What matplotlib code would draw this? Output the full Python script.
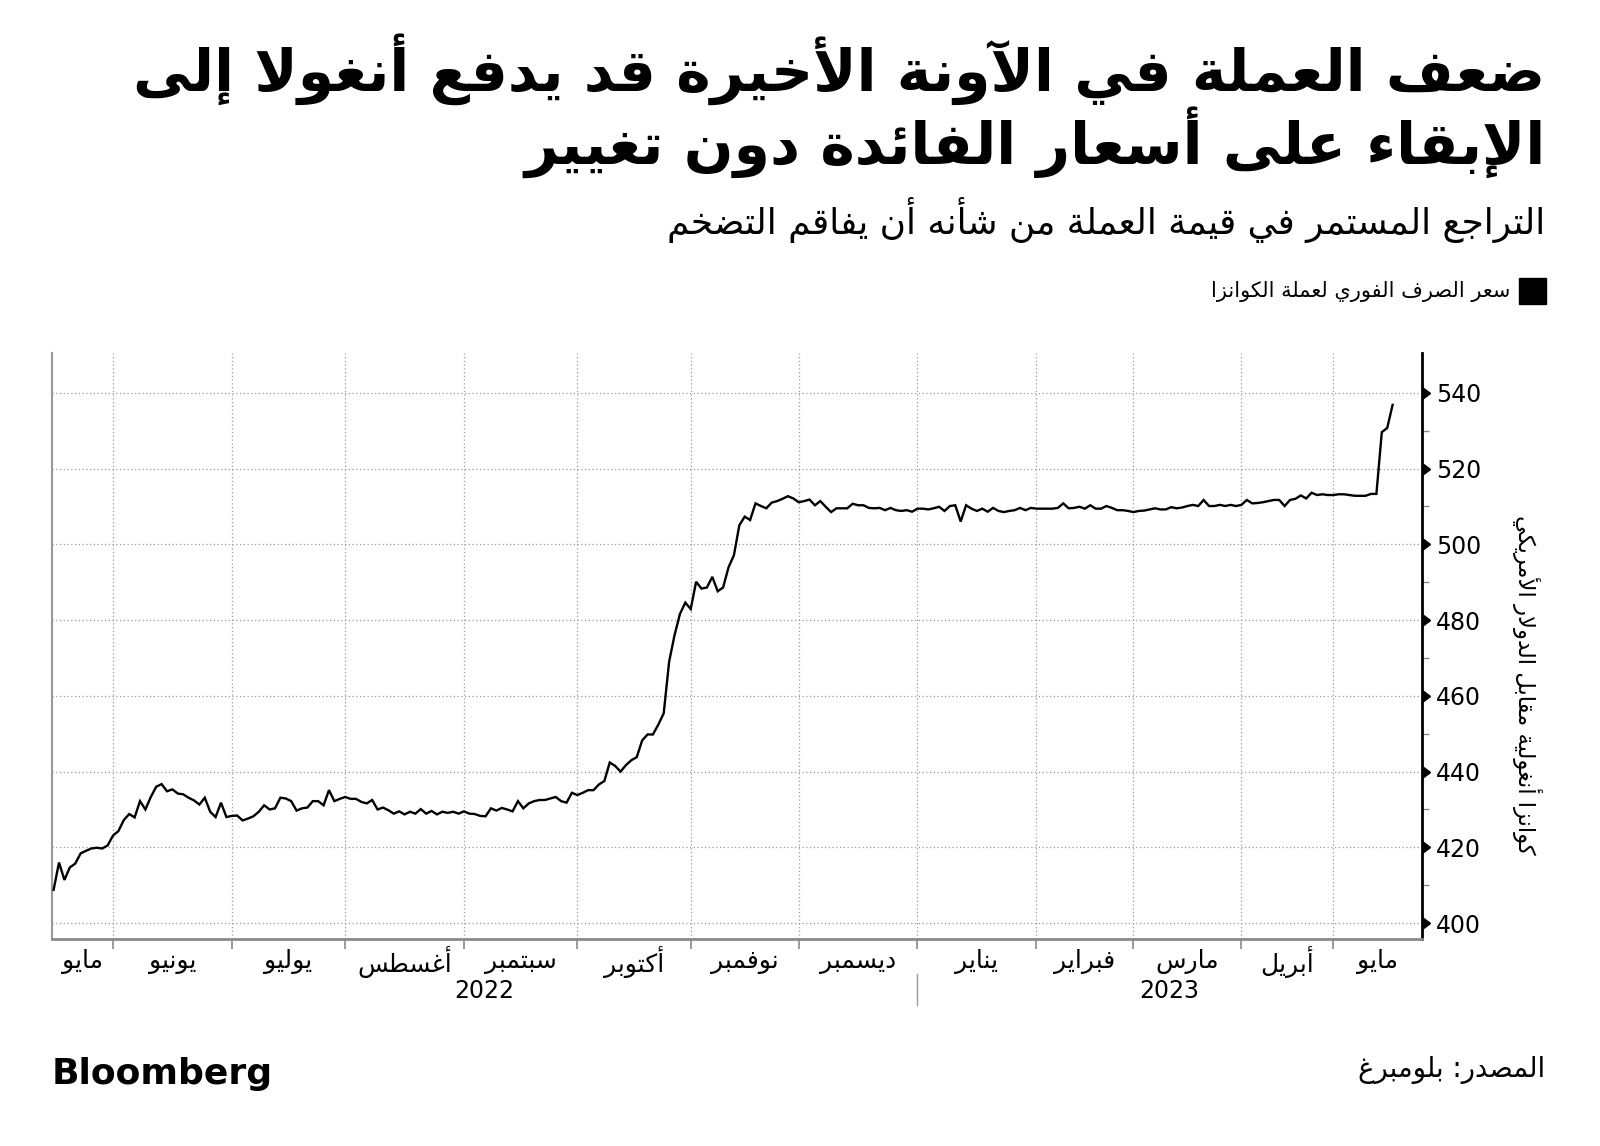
import numpy as np
import matplotlib
matplotlib.use("Agg")
import matplotlib.pyplot as plt
import matplotlib.transforms as mtransforms
import matplotlib.markers as mmarkers
from matplotlib.patches import Rectangle

plt.rcParams['font.family'] = ['DejaVu Sans']

# ---- data -------------------------------------------------------------
# months shown on the axis, and how many trading days fall in each
months = ["مايو", "يونيو", "يوليو", "أغسطس", "سبتمبر", "أكتوبر", "نوفمبر",
          "ديسمبر", "يناير", "فبراير", "مارس", "أبريل", "مايو"]
month_counts = [11, 22, 21, 22, 21, 21, 20, 22, 22, 18, 20, 17, 12]
years = ["2022", "2023"]
months_per_year = [8, 5]

# kwanza per US dollar, one value per trading day
kwanza = [
    408.8, 416.0, 411.4, 414.7, 415.7, 418.4, 419.1, 419.7, 419.9, 419.7,
    420.5, 423.1, 424.3, 427.2, 428.8, 427.9, 432.2, 430.0, 433.3, 436.0,
    436.7, 434.8, 435.3, 434.2, 434.0, 433.1, 432.4, 431.3, 433.1, 429.4,
    428.0, 431.8, 428.0, 428.3, 428.4, 427.1, 427.6, 428.2, 429.4, 431.1,
    430.0, 430.3, 433.1, 432.9, 432.2, 429.7, 430.3, 430.5, 432.2, 432.2,
    431.1, 435.1, 432.2, 432.8, 433.3, 432.8, 432.8, 432.0, 431.6, 432.5,
    430.0, 430.5, 429.8, 428.9, 429.5, 428.7, 429.4, 428.9, 430.1, 428.9,
    429.6, 428.7, 429.4, 429.1, 429.4, 428.9, 429.5, 428.9, 428.8, 428.3,
    428.2, 430.3, 429.7, 430.4, 430.0, 429.5, 432.2, 430.3, 431.6, 432.2,
    432.5, 432.5, 432.9, 433.3, 432.2, 431.8, 434.4, 433.8, 434.4, 435.1,
    435.1, 436.6, 437.5, 442.4, 441.5, 440.0, 441.7, 443.0, 443.8, 448.2,
    449.8, 449.8, 452.4, 455.4, 469.0, 476.0, 481.6, 484.6, 482.9, 490.1,
    488.3, 488.6, 491.4, 487.6, 488.6, 493.9, 497.1, 505.0, 507.3, 506.4,
    510.8, 510.1, 509.5, 511.0, 511.4, 512.0, 512.7, 512.1, 511.1, 511.4,
    511.8, 510.3, 511.4, 509.9, 508.5, 509.5, 509.5, 509.5, 510.7, 510.3,
    510.3, 509.6, 509.5, 509.6, 509.0, 509.6, 509.0, 508.8, 509.0, 508.6,
    509.4, 509.4, 509.2, 509.5, 509.9, 508.8, 510.1, 510.3, 506.0, 510.3,
    509.4, 508.8, 509.4, 508.6, 509.6, 508.8, 508.5, 508.8, 509.0, 509.6,
    509.0, 509.6, 509.4, 509.4, 509.4, 509.4, 509.6, 510.8, 509.5, 509.6,
    509.9, 509.4, 510.3, 509.4, 509.4, 510.1, 509.6, 509.0, 509.0, 508.8,
    508.5, 508.8, 508.9, 509.2, 509.5, 509.2, 509.2, 509.8, 509.5, 509.7,
    510.1, 510.4, 510.1, 511.7, 510.1, 510.1, 510.4, 510.1, 510.4, 510.1,
    510.4, 511.7, 510.8, 510.9, 511.1, 511.4, 511.7, 511.7, 510.1, 511.7,
    512.0, 512.9, 512.1, 513.6, 513.0, 513.2, 513.0, 513.0, 513.2, 513.2,
    513.0, 512.8, 512.8, 512.8, 513.3, 513.3, 529.6, 530.7, 536.8,
]
y_ticks = [400, 420, 440, 460, 480, 500, 520, 540]
y_minor = [410, 430, 450, 470, 490, 510, 530]

title_lines = ["ضعف العملة في الآونة الأخيرة قد يدفع أنغولا إلى",
               "الإبقاء على أسعار الفائدة دون تغيير"]
subtitle = "التراجع المستمر في قيمة العملة من شأنه أن يفاقم التضخم"
legend_label = "سعر الصرف الفوري لعملة الكوانزا"
y_label = "كوانزا أنغولية مقابل الدولار الأمريكي"
source = "المصدر: بلومبرغ"

# ---- minimal arabic shaping (matplotlib has no text shaping) ----------
FORMS = {
    'ء': (0xFE80, 1), 'آ': (0xFE81, 2), 'أ': (0xFE83, 2), 'ؤ': (0xFE85, 2),
    'إ': (0xFE87, 2), 'ئ': (0xFE89, 4), 'ا': (0xFE8D, 2), 'ب': (0xFE8F, 4),
    'ة': (0xFE93, 2), 'ت': (0xFE95, 4), 'ث': (0xFE99, 4), 'ج': (0xFE9D, 4),
    'ح': (0xFEA1, 4), 'خ': (0xFEA5, 4), 'د': (0xFEA9, 2), 'ذ': (0xFEAB, 2),
    'ر': (0xFEAD, 2), 'ز': (0xFEAF, 2), 'س': (0xFEB1, 4), 'ش': (0xFEB5, 4),
    'ص': (0xFEB9, 4), 'ض': (0xFEBD, 4), 'ط': (0xFEC1, 4), 'ظ': (0xFEC5, 4),
    'ع': (0xFEC9, 4), 'غ': (0xFECD, 4), 'ف': (0xFED1, 4), 'ق': (0xFED5, 4),
    'ك': (0xFED9, 4), 'ل': (0xFEDD, 4), 'م': (0xFEE1, 4), 'ن': (0xFEE5, 4),
    'ه': (0xFEE9, 4), 'و': (0xFEED, 2), 'ى': (0xFEEF, 2), 'ي': (0xFEF1, 4),
}
LAM_ALEF = {'آ': 0xFEF5, 'أ': 0xFEF7, 'إ': 0xFEF9, 'ا': 0xFEFB}


def ar(text):
    out = []
    i = 0
    n = len(text)
    while i < n:
        c = text[i]
        if c not in FORMS:
            out.append(c)
            i += 1
            continue
        prev = text[i - 1] if i > 0 else ''
        joins_prev = prev in FORMS and FORMS[prev][1] == 4 and FORMS[c][1] > 1
        if c == 'ل' and i + 1 < n and text[i + 1] in LAM_ALEF:
            out.append(chr(LAM_ALEF[text[i + 1]] + (1 if joins_prev else 0)))
            i += 2
            continue
        nxt = text[i + 1] if i + 1 < n else ''
        start, nforms = FORMS[c]
        joins_next = nforms == 4 and nxt in FORMS and FORMS[nxt][1] > 1
        if joins_prev and joins_next:
            off = 3
        elif joins_prev:
            off = 1
        elif joins_next:
            off = 2
        else:
            off = 0
        out.append(chr(start + off))
        i += 1
    return ''.join(reversed(out))


# ---- figure -----------------------------------------------------------
fig = plt.figure(figsize=(16, 11.46), dpi=100)
ax = fig.add_axes([0.0325, 0.1806, 0.8561, 0.5114])

x = np.arange(len(kwanza))
ax.plot(x, kwanza, color='black', lw=1.7, solid_joinstyle='miter', zorder=3)

x_lo, x_hi = -0.3, len(kwanza) + 4.4
ax.set_xlim(x_lo, x_hi)
ax.set_ylim(395.8, 550.5)

bounds = np.concatenate([[0], np.cumsum(month_counts)])
grid_x = bounds[1:-1]

ax.set_xticks(grid_x)
ax.set_xticklabels([])
ax.tick_params(axis='x', length=7, width=1.2, color='#8a8a8a', direction='out')

ax.yaxis.tick_right()
ax.set_yticks(y_ticks)
ax.set_yticks(y_minor, minor=True)
ax.tick_params(axis='y', which='major', length=0, pad=10, labelsize=17,
               labelcolor='black')
ax.tick_params(axis='y', which='minor', length=5, width=1, color='#8a8a8a',
               direction='out', right=True, left=False)

ax.grid(True, which='major', color='#9a9a9a', lw=0.9, linestyle=(0, (1, 2)))

ax.spines['top'].set_visible(False)
ax.spines['left'].set_color('#9a9a9a')
ax.spines['left'].set_linewidth(1.5)
ax.spines['bottom'].set_color('#8a8a8a')
ax.spines['bottom'].set_linewidth(2)
ax.spines['right'].set_color('black')
ax.spines['right'].set_linewidth(2)

# triangular major tick marks on the right axis
ytrans = mtransforms.blended_transform_factory(ax.transAxes, ax.transData)
ax.plot([1.0] * len(y_ticks), y_ticks, linestyle='none',
        marker=mmarkers.CARETRIGHTBASE, ms=8, color='black',
        transform=ytrans, clip_on=False, zorder=5)

# month and year labels
xtrans = mtransforms.blended_transform_factory(ax.transData, ax.transAxes)
for k, name in enumerate(months):
    a = bounds[k] if k > 0 else x_lo
    b = bounds[k + 1] if k < len(months) - 1 else x_hi
    ax.text((a + b) / 2, -0.039, ar(name), transform=xtrans, ha='center',
            va='center', fontsize=18, color='black')

year_edges = np.concatenate([[0], np.cumsum(months_per_year)])
for k, yr in enumerate(years):
    a = x_lo if k == 0 else bounds[year_edges[k]]
    b = x_hi if k == len(years) - 1 else bounds[year_edges[k + 1]]
    ax.text((a + b) / 2, -0.088, yr, transform=xtrans, ha='center',
            va='center', fontsize=17, color='black')
    if k > 0:
        ax.plot([a, a], [-0.06, -0.113], color='#9a9a9a', lw=1,
                transform=xtrans, clip_on=False)

fig.text(0.9545, 0.402, ar(y_label), rotation=-90, ha='center', va='center',
         fontsize=16.4, color='black')

# titles
fig.text(0.966, 0.921, ar(title_lines[0]), ha='right', va='baseline',
         fontsize=42, fontweight='bold')
fig.text(0.966, 0.857, ar(title_lines[1]), ha='right', va='baseline',
         fontsize=42, fontweight='bold')
fig.text(0.966, 0.796, ar(subtitle), ha='right', va='baseline', fontsize=25.8,
         color='black')

# legend
fig.patches.append(Rectangle((0.9495, 0.7347), 0.0166, 0.0227,
                             transform=fig.transFigure, color='black'))
fig.text(0.944, 0.741, ar(legend_label), ha='right', va='baseline',
         fontsize=15, color='black')

# footer
fig.text(0.032, 0.054, "Bloomberg", ha='left', va='baseline', fontsize=26,
         fontweight='bold')
fig.text(0.966, 0.06, ar(source), ha='right', va='baseline', fontsize=19.8,
         color='black')

fig.savefig('out.png', dpi=100)
